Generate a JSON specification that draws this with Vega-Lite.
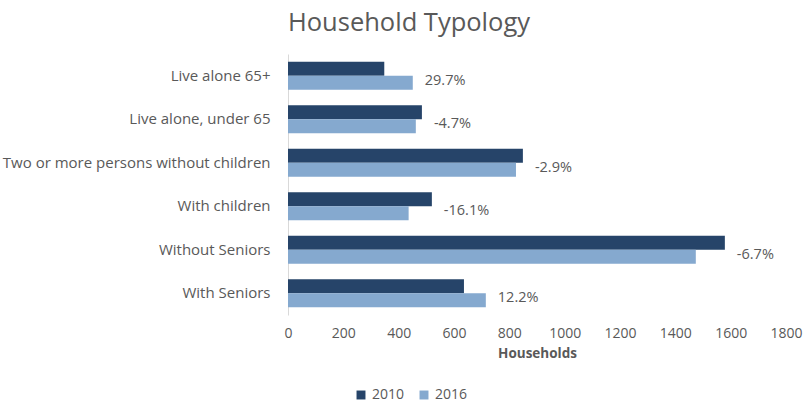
{
  "$schema": "https://vega.github.io/schema/vega-lite/v6.json",
  "width": 498,
  "height": 261,
  "autosize": "none",
  "padding": {"left": 288, "top": 54, "right": 18, "bottom": 89},
  "background": "white",
  "title": {
    "text": "Household Typology",
    "font": "Open Sans",
    "fontSize": 25.5,
    "fontWeight": "normal",
    "color": "#595959",
    "anchor": "middle",
    "dx": -128,
    "offset": 18
  },
  "config": {"view": {"stroke": null}, "font": "Open Sans"},
  "data": {
    "values": [
      {"category": "Live alone 65+", "year": "2010", "value": 348, "change": "29.7%"},
      {"category": "Live alone 65+", "year": "2016", "value": 451, "change": "29.7%"},
      {"category": "Live alone, under 65", "year": "2010", "value": 484, "change": "-4.7%"},
      {"category": "Live alone, under 65", "year": "2016", "value": 462, "change": "-4.7%"},
      {"category": "Two or more persons without children", "year": "2010", "value": 849, "change": "-2.9%"},
      {"category": "Two or more persons without children", "year": "2016", "value": 824, "change": "-2.9%"},
      {"category": "With children", "year": "2010", "value": 520, "change": "-16.1%"},
      {"category": "With children", "year": "2016", "value": 436, "change": "-16.1%"},
      {"category": "Without Seniors", "year": "2010", "value": 1579, "change": "-6.7%"},
      {"category": "Without Seniors", "year": "2016", "value": 1474, "change": "-6.7%"},
      {"category": "With Seniors", "year": "2010", "value": 636, "change": "12.2%"},
      {"category": "With Seniors", "year": "2016", "value": 715, "change": "12.2%"}
    ]
  },
  "encoding": {
    "y": {
      "field": "category",
      "type": "nominal",
      "sort": ["Live alone 65+", "Live alone, under 65", "Two or more persons without children", "With children", "Without Seniors", "With Seniors"],
      "scale": {"paddingInner": 0.356, "paddingOuter": 0.178},
      "axis": {
        "title": null,
        "domain": true,
        "domainColor": "#d9d9d9",
        "ticks": false,
        "grid": false,
        "labelFontSize": 15,
        "labelColor": "#595959",
        "labelPadding": 18,
        "labelLimit": 400
      }
    }
  },
  "layer": [
    {
      "mark": {"type": "bar"},
      "encoding": {
        "x": {
          "field": "value",
          "type": "quantitative",
          "scale": {"domain": [0, 1800]},
          "axis": {
            "title": "Households",
            "titleFontSize": 13.5,
            "titleFontWeight": "bold",
            "titleColor": "#595959",
            "titlePadding": 6,
            "values": [0, 200, 400, 600, 800, 1000, 1200, 1400, 1600, 1800],
            "format": "d",
            "domain": false,
            "ticks": false,
            "grid": false,
            "labelFontSize": 14,
            "labelColor": "#595959",
            "labelPadding": 11,
            "labelFlush": false
          }
        },
        "yOffset": {"field": "year", "type": "nominal", "sort": ["2010", "2016"]},
        "color": {
          "field": "year",
          "type": "nominal",
          "scale": {"domain": ["2010", "2016"], "range": ["#264469", "#85a9cf"]},
          "legend": {
            "title": null,
            "orient": "none",
            "direction": "horizontal",
            "legendX": 66,
            "legendY": 334,
            "symbolType": "square",
            "symbolSize": 80,
            "labelFontSize": 14,
            "labelColor": "#595959",
            "columnPadding": 12
          }
        }
      }
    },
    {
      "transform": [
        {"joinaggregate": [{"op": "max", "field": "value", "as": "maxv"}], "groupby": ["category"]},
        {"filter": "datum.year == '2016'"}
      ],
      "mark": {"type": "text", "align": "left", "baseline": "middle", "dx": 12, "dy": 5, "fontSize": 14.5, "color": "#595959"},
      "encoding": {
        "x": {"field": "maxv", "type": "quantitative"},
        "text": {"field": "change", "type": "nominal"}
      }
    }
  ]
}
